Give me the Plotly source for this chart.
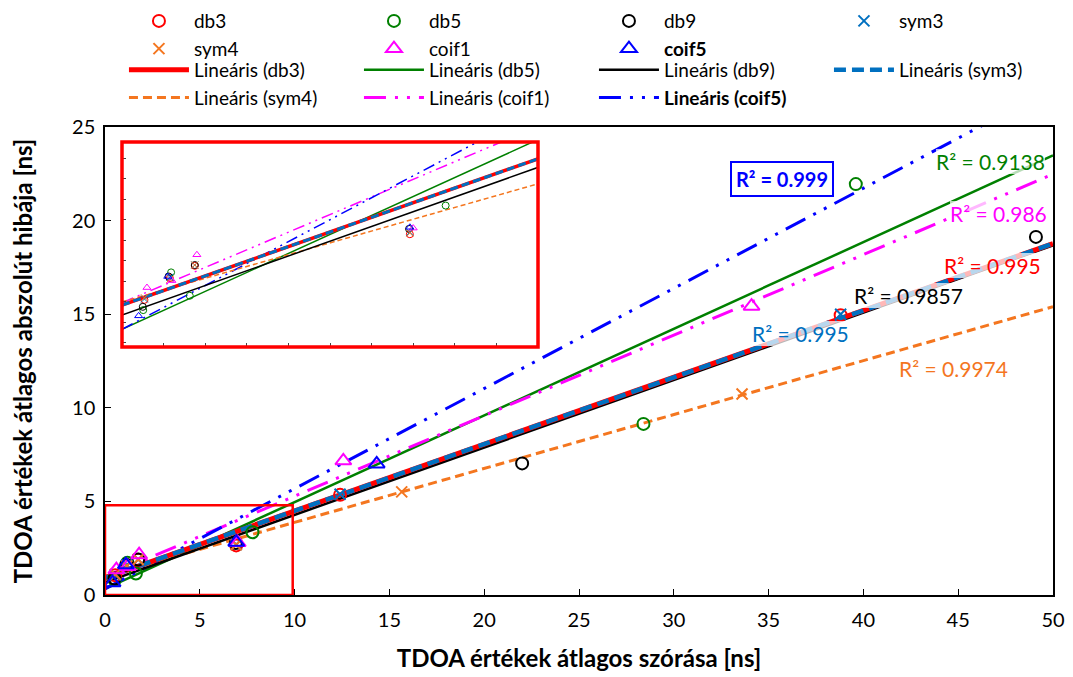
import numpy as np
import plotly.graph_objects as go

# ---------------- data ----------------
series = ["db3", "db5", "db9", "sym3", "sym4", "coif1", "coif5"]

db3_x = [0.54, 1.15, 1.75, 6.92, 12.4, 38.8]
db3_y = [1.05, 1.58, 1.88, 2.65, 5.35, 14.95]
db5_x = [0.51, 1.18, 1.63, 7.78, 28.4, 39.6]
db5_y = [0.80, 1.72, 1.15, 3.35, 9.14, 21.95]
db9_x = [0.50, 1.12, 1.75, 6.90, 22.0, 49.1]
db9_y = [0.88, 1.62, 1.90, 2.78, 7.03, 19.13]
sym3_x = [0.54, 1.15, 1.75, 6.92, 12.4, 38.8]
sym3_y = [1.07, 1.60, 1.90, 2.70, 5.38, 15.00]
sym4_x = [0.54, 1.15, 1.75, 6.92, 15.65, 33.6]
sym4_y = [1.10, 1.55, 1.90, 2.68, 5.51, 10.74]
coif1_x = [0.60, 1.20, 1.80, 7.00, 12.57, 34.1]
coif1_y = [1.35, 1.52, 2.15, 2.80, 7.17, 15.43]
coif5_x = [0.40, 1.10, 6.92, 14.33]
coif5_y = [0.66, 1.62, 2.82, 7.00]

# linear trendlines (intercept, slope) and R² labels
trend_intercept = {"db3": 0.92, "db5": 0.33, "db9": 0.68, "sym3": 0.92,
                   "sym4": 1.00, "coif1": 0.98, "coif5": 0.33}
trend_slope = {"db3": 0.357, "db5": 0.463, "db9": 0.360, "sym3": 0.357,
               "sym4": 0.288, "coif1": 0.430, "coif5": 0.535}
r2_text = {"db3": "0.995", "db5": "0.9138", "db9": "0.9857", "sym3": "0.995",
           "sym4": "0.9974", "coif1": "0.986", "coif5": "0.999"}
trend_x = [0, 50]

x_ticks = [0, 5, 10, 15, 20, 25, 30, 35, 40, 45, 50]
y_ticks = [0, 5, 10, 15, 20, 25]

pts = {"db3": (db3_x, db3_y), "db5": (db5_x, db5_y), "db9": (db9_x, db9_y),
       "sym3": (sym3_x, sym3_y), "sym4": (sym4_x, sym4_y),
       "coif1": (coif1_x, coif1_y), "coif5": (coif5_x, coif5_y)}

# ---------------- styles ----------------
FONT = "Lato"
col = {"db3": "#FF0000", "db5": "#008000", "db9": "#000000", "sym3": "#0070C0",
       "sym4": "#F4761F", "coif1": "#FF00FF", "coif5": "#0000FF"}
sym = {"db3": "circle-open", "db5": "circle-open", "db9": "circle-open",
       "sym3": "x-thin-open", "sym4": "x-thin-open",
       "coif1": "triangle-up-open", "coif5": "triangle-up-open"}
msize = {"db3": 12, "db5": 12, "db9": 12, "sym3": 11, "sym4": 11, "coif1": 14, "coif5": 14}
lstyle = {"db3": (5, "solid"), "db5": (2.5, "solid"), "db9": (2.5, "solid"),
          "sym3": (4.5, "12px,6px"), "sym4": (3, "9px,5px"),
          "coif1": (3, "22px,9px,3px,9px,3px,9px"),
          "coif5": (3, "22px,9px,3px,9px,3px,9px")}
lstyle_in = {"db3": (3.5, "solid"), "db5": (1.5, "solid"), "db9": (1.5, "solid"),
             "sym3": (3, "8px,4px"), "sym4": (1.5, "5px,3px"),
             "coif1": (1.5, "12px,5px,2px,5px,2px,5px"),
             "coif5": (1.5, "12px,5px,2px,5px,2px,5px")}

def label(s, lin=False):
    t = ("Lineáris (%s)" % s) if lin else s
    return "<b>%s</b>" % t if s == "coif5" else t

fig = go.Figure()
line_order = ["db5", "coif1", "coif5", "sym4", "db9", "db3", "sym3"]
tx = np.array(trend_x, dtype=float)

for s in line_order:
    w, d = lstyle[s]
    fig.add_trace(go.Scatter(
        x=tx, y=trend_intercept[s] + trend_slope[s] * tx, mode="lines",
        line=dict(color=col[s], width=w, dash=d), name=label(s, True),
        legend="legend2", legendrank=100 + series.index(s),
        xaxis="x", yaxis="y"))
for s in series:
    fig.add_trace(go.Scatter(
        x=pts[s][0], y=pts[s][1], mode="markers", name=label(s),
        marker=dict(symbol=sym[s], size=msize[s], color=col[s], line=dict(width=2, color=col[s])),
        legend="legend", legendrank=series.index(s), xaxis="x", yaxis="y"))

# inset (zoomed view of the lower-left region)
for s in line_order:
    w, d = lstyle_in[s]
    fig.add_trace(go.Scatter(
        x=tx, y=trend_intercept[s] + trend_slope[s] * tx, mode="lines",
        line=dict(color=col[s], width=w, dash=d), showlegend=False,
        xaxis="x2", yaxis="y2"))
for s in series:
    fig.add_trace(go.Scatter(
        x=pts[s][0], y=pts[s][1], mode="markers", showlegend=False,
        marker=dict(symbol=sym[s], size=7, color=col[s], line=dict(width=1, color=col[s])),
        xaxis="x2", yaxis="y2"))

# pixel -> paper helpers (absolute screen pixels; page body has an 8px offset)
OFF = 8
L, R, T, B = 105, 1053, 127, 595
W, H = 1073 - OFF, 677 - OFF
def px(x): return (x - L) / (R - L)
def py(y): return (B - y) / (B - T)

ann_pos = {"coif5": (782, 179), "db5": (990, 162), "coif1": (998, 213),
           "db3": (992, 265), "db9": (908, 295), "sym3": (800, 333), "sym4": (953, 368)}
annotations = []
for s, (ax_, ay_) in ann_pos.items():
    bold = s == "coif5"
    txt = "R² = " + r2_text[s]
    annotations.append(dict(
        x=px(ax_), y=py(ay_), xref="paper", yref="paper", showarrow=False,
        xanchor="center", yanchor="middle",
        text="<b>%s</b>" % txt if bold else txt,
        font=dict(family=FONT, size=21 if not bold else 20, color=col[s]),
        bgcolor="white" if bold else "rgba(255,255,255,0.72)",
        bordercolor=col[s] if bold else "rgba(0,0,0,0)",
        borderwidth=2 if bold else 0, borderpad=4 if bold else 0))

shapes = [
    dict(type="rect", xref="x", yref="y", x0=0, x1=9.9, y0=0, y1=4.8,
         line=dict(color="#FF0000", width=2.5), layer="above"),
    dict(type="rect", xref="paper", yref="paper", x0=px(122), x1=px(538),
         y0=py(347), y1=py(142), line=dict(color="#FF0000", width=3.5), layer="above"),
]

axis_common = dict(showgrid=False, zeroline=False, showline=True, linecolor="black",
                   linewidth=1.5, mirror=True, ticks="inside", ticklen=6,
                   tickcolor="black", tickfont=dict(family=FONT, size=20, color="black"))

fig.update_layout(
    width=W, height=H,
    margin=dict(l=L - OFF, r=1073 - R, t=T - OFF, b=677 - B, autoexpand=False),
    paper_bgcolor="white", plot_bgcolor="white",
    font=dict(family=FONT, color="black"),
    xaxis=dict(range=[0, 50], tickvals=x_ticks, domain=[0, 1], ticklabelstandoff=6,
               title=dict(text="<b>TDOA értékek átlagos szórása [ns]</b>",
                          font=dict(family=FONT, size=24), standoff=20),
               **axis_common),
    yaxis=dict(range=[0, 25], tickvals=y_ticks, domain=[0, 1], ticklabelstandoff=4,
               title=dict(text="<b>TDOA értékek átlagos abszolút hibája [ns]</b>",
                          font=dict(family=FONT, size=24), standoff=40),
               **axis_common),
    xaxis2=dict(range=[0, 10], dtick=1, domain=[px(122), px(538)], anchor="y2",
                showgrid=False, zeroline=False, showline=False, ticks="inside",
                ticklen=4, tickcolor="#444", showticklabels=False),
    yaxis2=dict(range=[-0.1, 4.9], dtick=0.5, domain=[py(347), py(142)], anchor="x2",
                showgrid=False, zeroline=False, showline=False, ticks="inside",
                ticklen=4, tickcolor="#444", showticklabels=False),
    legend=dict(orientation="h", x=0.02, y=1.267, xanchor="left", yanchor="top",
                entrywidth=160, entrywidthmode="pixels", itemwidth=60,
                font=dict(family=FONT, size=19), bgcolor="rgba(0,0,0,0)",
                traceorder="normal", tracegroupgap=0),
    legend2=dict(orientation="h", x=0.02, y=1.1624, xanchor="left", yanchor="top",
                 entrywidth=160, entrywidthmode="pixels", itemwidth=60,
                 font=dict(family=FONT, size=19), bgcolor="rgba(0,0,0,0)",
                 traceorder="normal", tracegroupgap=0),
    annotations=annotations, shapes=shapes,
)

fig.write_html("out.html")
